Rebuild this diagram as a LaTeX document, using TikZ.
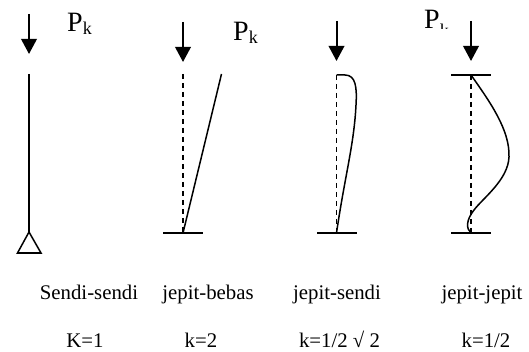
\documentclass[tikz,border=0pt]{standalone}
\usepackage{fontspec}
\setmainfont{Liberation Serif}
\usepackage{tikz}
\usetikzlibrary{arrows.meta}
\tikzset{
    beam/.style={line width=1.5pt},
    load/.style={line width=2pt,-{Triangle[length=15pt,width=15.5pt]}},
    plumb/.style={line width=1.3pt,dash pattern=on 5.5pt off 3.5pt},
    support/.style={line width=1.5pt},
    caption/.style={inner sep=0pt,anchor=base,font=\fontsize{20.8}{24}\selectfont},
    force/.style={inner sep=0pt,anchor=base west,font=\fontsize{28}{30}\selectfont}
}
\newcommand{\subk}{\raisebox{-3pt}{\fontsize{18}{20}\selectfont k}}
\begin{document}
\begin{tikzpicture}[x=1pt,y=-1pt]
\useasboundingbox (0,0) rectangle (529,352);
% loads
\foreach \n/\x/\ya/\yb in {a/29/14/54,b/183/22/62,c/336.5/21/61,d/471/21/61} {
    \coordinate (top\n) at (\x,\ya);
    \coordinate (tip\n) at (\x,\yb);
    \draw[load] (top\n) -- (tip\n);
}
% hinged column
\coordinate (a1) at (29,74);
\coordinate (a2) at (29,232);
\coordinate (a3) at (17.5,253);
\coordinate (a4) at (41,253);
\draw[beam] (a1) -- (a2);
\draw[support] (a2) -- (a3) -- (a4) -- cycle;
% fixed-free
\coordinate (b1) at (183,74);
\coordinate (b2) at (183,233);
\coordinate (b3) at (221.5,74);
\draw[plumb] (b1) -- (b2);
\draw[beam] (b2) -- (b3);
\draw[support] (163,233) -- (203,233);
% fixed-hinged
\coordinate (c1) at (336.5,75);
\coordinate (c2) at (336.5,233);
\draw[plumb] (c1) -- (c2);
\draw[beam] (c1) -- (345,75) .. controls (356,75) and (357,88) .. (356,105) .. controls (354,145) and (345,175) .. (c2);
\draw[support] (317,233) -- (357,233);
% fixed-fixed
\coordinate (d1) at (471,75);
\coordinate (d2) at (471,233);
\draw[plumb] (d1) -- (d2);
\draw[beam] (d1) .. controls (490,102) and (510,130) .. (509,157) .. controls (508,180) and (483,198) .. (474,210) .. controls (466,220) and (466,229) .. (d2);
\draw[support] (451,75) -- (491,75);
\draw[support] (451,233) -- (491,233);
% labels
\node[force] (p1) at (67,32) {P\subk};
\node[force] (p2) at (233,41) {P\subk};
\begin{scope}
\clip (415,0) rectangle (450,29);
\node[force] (p4) at (424,29) {P\raisebox{-5pt}{\subk}};
\end{scope}
\foreach \n/\x/\lab in {s1/89/Sendi-sendi,s2/208/jepit-bebas,s3/337/jepit-sendi,s4/482/jepit-jepit} {
    \node[caption] (\n) at (\x,299) {\lab};
}
\foreach \n/\x/\lab in {k1/85/{K=1},k2/201/{k=2},k3/339.5/{k=1/2 √ 2},k4/486/{k=1/2}} {
    \node[caption] (\n) at (\x,347.4) {\lab};
}
\end{tikzpicture}
\end{document}
